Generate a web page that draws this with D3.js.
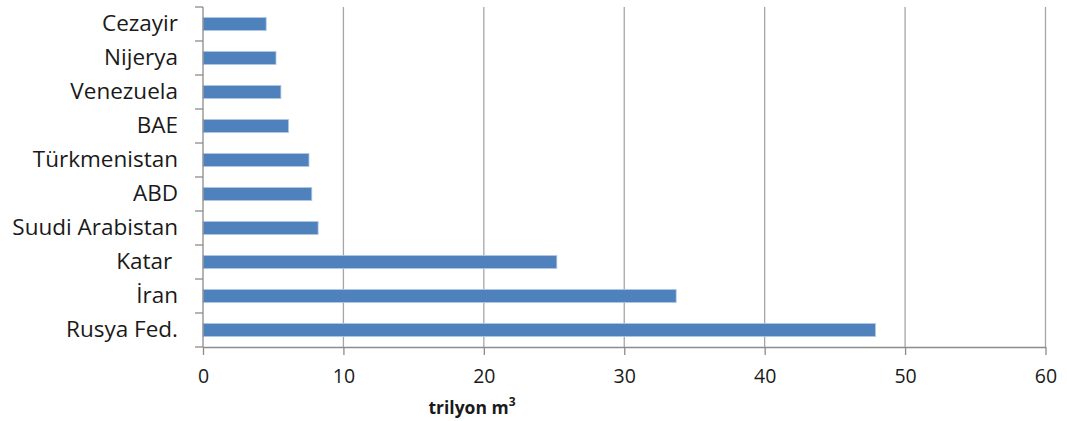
<!DOCTYPE html>
<html lang="tr">
<head>
<meta charset="utf-8">
<title>doğalgaz rezervleri</title>
<script src="https://d3js.org/d3.v7.min.js"></script>
<style>
  body{margin:0;background:#fff;}
  svg text{font-family:"Open Sans",sans-serif;fill:#1a1a1a;}
  .cat text{white-space:pre;}
</style>
</head>
<body>
<div id="chart"></div>
<script>
// ulkeler (ustten asagi) ve rezervler, trilyon m3
var countries = ["Cezayir","Nijerya","Venezuela","BAE","Türkmenistan","ABD","Suudi Arabistan","Katar ","İran","Rusya Fed."]
var reserves = [4.5, 5.2, 5.55, 6.1, 7.55, 7.75, 8.2, 25.2, 33.7, 47.9]
var xTicks = [0,10,20,30,40,50,60]

var w = 1067, h = 421
var mLeft = 203, mRight = 1045.5, mTop = 7, mBottom = 347

var svg = d3.select("#chart").append("svg")
    .attr("width", w)
    .attr("height", h)

var xScale = d3.scaleLinear().domain([0,60]).range([mLeft,mRight])
var yScale = d3.scaleBand().domain(countries).range([mTop,mBottom]).paddingInner(0.61).paddingOuter(0.305)

// dikey izgara
svg.selectAll("line.grid")
    .data(xTicks.slice(1))
    .enter().append("line")
    .attr("class","grid")
    .attr("x1",function(d){return xScale(d)})
    .attr("x2",function(d){return xScale(d)})
    .attr("y1",mTop)
    .attr("y2",mBottom)
    .attr("stroke","#a6a6a6")
    .attr("stroke-width",1.3)

// cubuklar
svg.selectAll("rect")
    .data(countries)
    .enter().append("rect")
    .attr("x",xScale(0))
    .attr("y",function(d){return yScale(d)})
    .attr("width",function(d,i){return xScale(reserves[i])-xScale(0)})
    .attr("height",yScale.bandwidth())
    .attr("fill","#4f81bd")
    .attr("stroke","#b9cde5")
    .attr("stroke-width",0.8)

// x ekseni
var xAxis = svg.append("g")
    .attr("transform","translate(0,"+mBottom+")")
    .call(d3.axisBottom(xScale).tickValues(xTicks).tickSize(8).tickPadding(14).tickSizeOuter(0))
xAxis.select(".domain").attr("stroke","#8c8c8c").attr("stroke-width",1.3)
xAxis.selectAll(".tick line").attr("stroke","#8c8c8c").attr("stroke-width",1.3)
xAxis.selectAll(".tick text").attr("font-size","19.5px").attr("fill","#1a1a1a")

// y ekseni - kategori sinirlarinda tikler
var catAxis = svg.append("g").attr("class","cat")
    .attr("transform","translate("+mLeft+",0)")
    .call(d3.axisLeft(yScale).tickSize(0).tickPadding(25))
catAxis.select(".domain").remove()
catAxis.selectAll(".tick text").attr("font-size","22.5px").attr("fill","#1a1a1a")

var step = yScale.step()
svg.append("line")
    .attr("x1",mLeft).attr("x2",mLeft)
    .attr("y1",mTop).attr("y2",mBottom)
    .attr("stroke","#8c8c8c").attr("stroke-width",1.3)
svg.selectAll("line.ytick")
    .data(d3.range(countries.length+1))
    .enter().append("line")
    .attr("class","ytick")
    .attr("x1",mLeft-8).attr("x2",mLeft)
    .attr("y1",function(i){return mTop+i*step})
    .attr("y2",function(i){return mTop+i*step})
    .attr("stroke","#8c8c8c").attr("stroke-width",1.3)

// eksen basligi
var title = svg.append("text")
    .attr("x",472)
    .attr("y",414)
    .attr("text-anchor","middle")
    .attr("font-size","17.5px")
    .attr("font-weight","bold")
title.append("tspan").text("trilyon m")
title.append("tspan").attr("font-size","12px").attr("dy","-8").text("3")
</script>
</body>
</html>
